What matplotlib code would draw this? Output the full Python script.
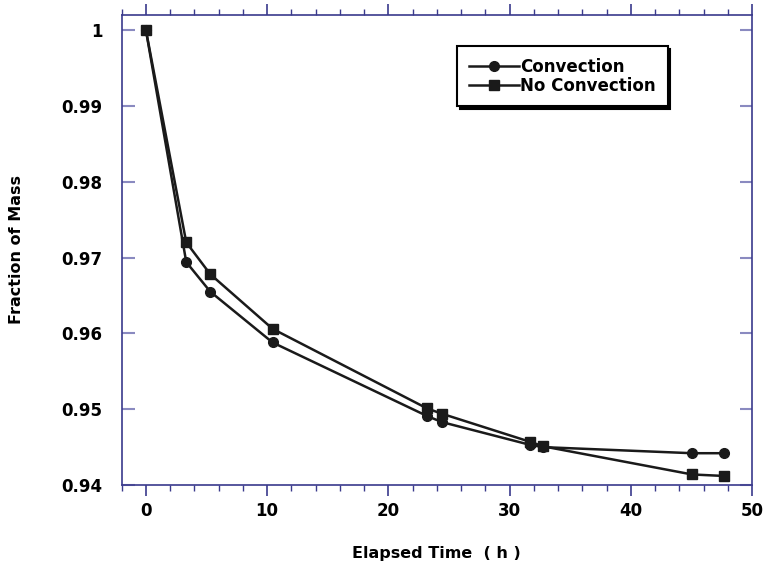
import matplotlib
matplotlib.use("Agg")
import matplotlib.pyplot as plt

# -------------------------------------------------
# Data
# -------------------------------------------------
time_conv = [0, 3.33, 5.31, 10.45, 23.2, 24.43, 31.7, 32.8, 45.05, 47.7]
mass_conv = [1.0, 0.9694, 0.9655, 0.9588, 0.9491, 0.9483, 0.9453, 0.9450, 0.9442, 0.9442]

time_noconv = [0, 3.33, 5.31, 10.45, 23.2, 24.43, 31.7, 32.8, 45.05, 47.7]
mass_noconv = [1.0, 0.9720, 0.9678, 0.9606, 0.9501, 0.9494, 0.9457, 0.9451, 0.9414, 0.9412]

ytick_vals = [0.94, 0.95, 0.96, 0.97, 0.98, 0.99, 1.0]
ytick_labels = ["0.94", "0.95", "0.96", "0.97", "0.98", "0.99", "1"]
xtick_vals = [0, 10, 20, 30, 40, 50]

spine_col = "#3a3a8c"
ytick_col = "#8a8ac0"

plt.rcParams["font.family"] = ["DejaVu Sans"]
plt.rcParams["font.weight"] = "bold"

fig = plt.figure(figsize=(7.65, 5.68), dpi=100)
ax = fig.add_axes([0.159, 0.146, 0.824, 0.828])

ax.plot(time_conv, mass_conv, color="#1a1a1a", lw=1.8, marker="o",
        ms=7, label="Convection")
ax.plot(time_noconv, mass_noconv, color="#1a1a1a", lw=1.8, marker="s",
        ms=7.5, label="No Convection")

# -------------------------------------------------
# Axes formatting
# -------------------------------------------------
ax.set_xlim(-2, 50)
ax.set_ylim(0.94, 1.002)
ax.set_xticks(xtick_vals)
ax.set_xticks(range(-2, 51, 2), minor=True)
ax.set_yticks(ytick_vals)
ax.set_yticklabels(ytick_labels)

for s in ax.spines.values():
    s.set_color(spine_col)
    s.set_linewidth(1.2)

ax.tick_params(axis="x", which="both", direction="out", top=True,
               color=spine_col, labelsize=12, pad=4)
ax.tick_params(axis="x", which="major", length=8, width=1.2)
ax.tick_params(axis="x", which="minor", length=4.5, width=1.0)
ax.tick_params(axis="y", which="major", direction="in", right=True,
               color=ytick_col, length=9, width=1.5, labelsize=12, pad=14)

ax.set_xlabel("Elapsed Time  ( h )", fontsize=11.5, fontweight="bold", labelpad=19)
ax.set_ylabel("Fraction of Mass", fontsize=11.5, fontweight="bold", labelpad=27)

leg = ax.legend(loc="upper left", bbox_to_anchor=(0.532, 0.933),
                borderaxespad=0, fontsize=12, handlelength=3,
                handletextpad=0.1, labelspacing=0.05, borderpad=0.7,
                fancybox=False, edgecolor="black",
                shadow={"color": "black", "alpha": 1})
leg.get_frame().set_linewidth(1.5)

fig.savefig("out.png", dpi=100)
